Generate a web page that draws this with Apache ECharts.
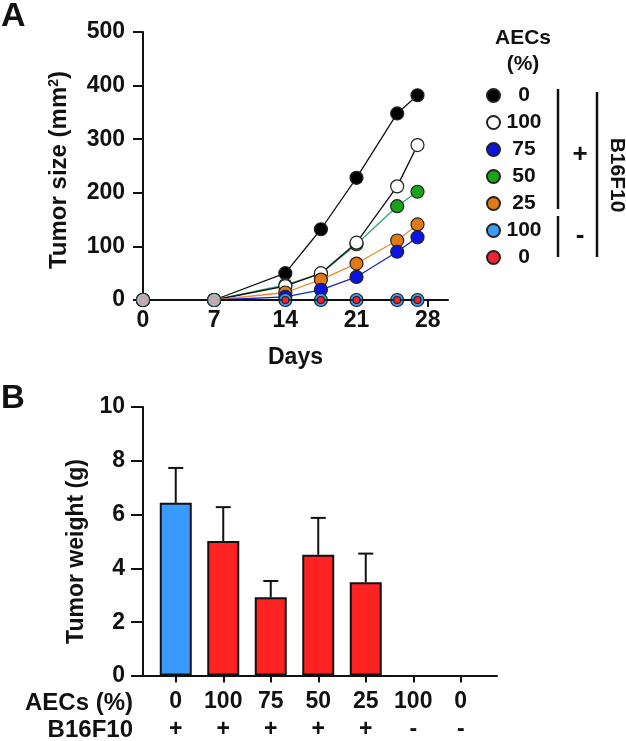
<!DOCTYPE html>
<html><head><meta charset="utf-8">
<script src="https://cdn.jsdelivr.net/npm/echarts@6/dist/echarts.min.js"></script>
<style>html,body{margin:0;padding:0;background:#fff}#c{width:626px;height:741px}</style>
</head><body><div id="c"></div>
<script>
// ---------- data: panel A (tumor size, mm^2) ----------
const days = [0, 7, 14, 17.5, 21, 25, 27];
const dayTicks = [0, 7, 14, 21, 28];
const startDays = [0, 7];
const startValues = [0, 0];
const sizeAec0 = [0, 0, 50, 132, 228, 348, 382];
const sizeAec100 = [0, 0, 26, 50, 107, 212, 289];
const sizeAec75 = [0, 0, 6, 19, 43, 90, 117];
const sizeAec50 = [0, 0, 28, 49, 104, 175, 202];
const sizeAec25 = [0, 0, 14, 38, 68, 111, 141];
const sizeCtrl100 = [0, 0, 0, 0, 0, 0, 0];
const sizeCtrl0 = [0, 0, 0, 0, 0, 0, 0];
const legendNames = ['0', '100', '75', '50', '25', '100 ', '0 '];

// ---------- data: panel B (tumor weight, g) ----------
const weightGroups = ['0', '100', '75', '50', '25', '100', '0'];
const weightB16 = ['+', '+', '+', '+', '+', '-', '-'];
const weightMean = [6.43, 5.01, 2.91, 4.50, 3.47, 0, 0];
const weightSem = [1.30, 1.26, 0.61, 1.37, 1.07, 0, 0];

// ---------- styles ----------
const FONT = '"Liberation Sans", Arial, sans-serif';
const INK = '#111';
const MB = '#222';
const topStyles = {
  '0':    {fill: '#000000', line: '#111111', size: 13},
  '100':  {fill: '#ffffff', line: '#111111', size: 13},
  '75':   {fill: '#0c14e4', line: '#1a22c8', size: 13},
  '50':   {fill: '#18a318', line: '#34a276', size: 13},
  '25':   {fill: '#e27a14', line: '#ee8a2c', size: 13},
  '100 ': {fill: '#3a9cf2', line: '#111111', size: 13},
  '0 ':   {fill: '#f22030', line: '#111111', size: 7}
};
const barColors = ['#3a9aff', '#fe2222', '#fe2222', '#fe2222', '#fe2222', '#fe2222', '#fe2222'];

function pairs(xs, ys) { return xs.map((x, i) => [x, ys[i]]); }
function lineSeries(name, values, z) {
  const st = topStyles[name];
  return {
    type: 'line', name: name, xAxisIndex: 0, yAxisIndex: 0, z: z,
    data: pairs(days, values), clip: false,
    symbol: 'circle', symbolSize: st.size, showSymbol: true,
    itemStyle: {color: st.fill, borderColor: MB, borderWidth: 1.2},
    lineStyle: {color: st.line, width: 1.3},
    emphasis: {disabled: true}
  };
}

// draw order (bottom -> top)
const topSeries = [
  lineSeries('0', sizeAec0, 2),
  lineSeries('50', sizeAec50, 3),
  lineSeries('100', sizeAec100, 4),
  lineSeries('25', sizeAec25, 5),
  lineSeries('75', sizeAec75, 6),
  lineSeries('100 ', sizeCtrl100, 7),
  lineSeries('0 ', sizeCtrl0, 8),
  {
    type: 'scatter', name: 'start', xAxisIndex: 0, yAxisIndex: 0, z: 9,
    data: pairs(startDays, startValues), clip: false,
    symbol: 'circle', symbolSize: 13,
    itemStyle: {color: '#c9c9c9', borderColor: '#333', borderWidth: 1.2},
    emphasis: {disabled: true}
  }
];

const chart = echarts.init(document.getElementById('c'), null, {renderer: 'canvas'});
const axisLineStyle = {color: INK, width: 2};

chart.setOption({
  animation: false,
  backgroundColor: '#fff',
  textStyle: {fontFamily: FONT, fontWeight: 'bold', color: INK},
  grid: [
    {left: 143, top: 32, width: 305, height: 268},
    {left: 143, top: 407, width: 354, height: 269},
    {left: 152, top: 407, width: 332.5, height: 269}
  ],
  xAxis: [
    {
      gridIndex: 0, type: 'value', min: 0, max: 30,
      axisLine: {show: true, onZero: false, lineStyle: axisLineStyle},
      axisTick: {show: true, length: 7, customValues: dayTicks, lineStyle: axisLineStyle},
      axisLabel: {customValues: dayTicks, margin: 9, fontSize: 23, fontWeight: 'bold', color: INK, fontFamily: FONT},
      splitLine: {show: false},
      name: 'Days', nameLocation: 'middle', nameGap: 46,
      nameTextStyle: {fontSize: 23, fontWeight: 'bold', color: INK, fontFamily: FONT}
    },
    {
      gridIndex: 1, type: 'value', min: 0, max: 1,
      axisLine: {show: true, onZero: false, lineStyle: axisLineStyle},
      axisTick: {show: false}, axisLabel: {show: false}, splitLine: {show: false}
    },
    {
      gridIndex: 2, type: 'category', data: weightGroups, boundaryGap: true,
      axisLine: {show: false},
      axisTick: {show: true, alignWithLabel: true, length: 7, lineStyle: axisLineStyle},
      axisLabel: {
        margin: 12, interval: 0,
        formatter: (v, i) => '{a|' + weightGroups[i] + '}\n{b|' + weightB16[i] + '}',
        rich: {
          a: {fontSize: 23, fontWeight: 'bold', color: INK, fontFamily: FONT, lineHeight: 28},
          b: {fontSize: 23, fontWeight: 'bold', color: INK, fontFamily: FONT, lineHeight: 28}
        }
      },
      splitLine: {show: false}
    }
  ],
  yAxis: [
    {
      gridIndex: 0, type: 'value', min: 0, max: 500, interval: 100,
      axisLine: {show: true, lineStyle: axisLineStyle},
      axisTick: {show: true, length: 10, lineStyle: axisLineStyle},
      axisLabel: {margin: 18, fontSize: 23, fontWeight: 'bold', color: INK, fontFamily: FONT},
      splitLine: {show: false},
      name: 'Tumor size (mm{sup|2})', nameLocation: 'middle', nameGap: 72,
      nameTextStyle: {
        fontSize: 24, fontWeight: 'bold', color: INK, fontFamily: FONT, padding: [0, 8, 0, 0],
        rich: {sup: {fontSize: 14, fontWeight: 'bold', color: INK, fontFamily: FONT, verticalAlign: 'top', lineHeight: 12}}
      }
    },
    {
      gridIndex: 1, type: 'value', min: 0, max: 10, interval: 2,
      axisLine: {show: true, lineStyle: axisLineStyle},
      axisTick: {show: true, length: 12, lineStyle: axisLineStyle},
      axisLabel: {margin: 18, fontSize: 23, fontWeight: 'bold', color: INK, fontFamily: FONT},
      splitLine: {show: false},
      name: 'Tumor weight (g)', nameLocation: 'middle', nameGap: 54,
      nameTextStyle: {fontSize: 23, fontWeight: 'bold', color: INK, fontFamily: FONT, padding: [0, 20, 0, 0]}
    },
    {
      gridIndex: 2, type: 'value', min: 0, max: 10, show: false
    }
  ],
  legend: {
    data: legendNames,
    orient: 'vertical', left: 481, top: 80,
    icon: 'circle', itemWidth: 13, itemHeight: 13, itemGap: 6,
    selectedMode: false,
    formatter: n => '{c|' + n.trim() + '}',
    textStyle: {
      rich: {c: {width: 38, align: 'center', fontSize: 21, fontWeight: 'bold', color: INK, fontFamily: FONT, lineHeight: 21}}
    }
  },
  series: topSeries.concat([
    {
      type: 'bar', xAxisIndex: 2, yAxisIndex: 2, barWidth: 32, z: 3,
      data: weightMean.map((v, i) => ({value: v, itemStyle: {color: barColors[i], borderWidth: v > 0 ? 2 : 0}})),
      itemStyle: {borderColor: INK, borderWidth: 2},
      emphasis: {disabled: true}
    },
    {
      type: 'custom', xAxisIndex: 2, yAxisIndex: 2, z: 2,
      data: weightMean.map((m, i) => [i, m, weightSem[i]]),
      renderItem: (params, api) => {
        const i = api.value(0), m = api.value(1), e = api.value(2);
        if (!e) return null;
        const p0 = api.coord([i, m]);
        const p1 = api.coord([i, m + e]);
        const half = 7.5;
        return {
          type: 'group',
          children: [
            {type: 'line', shape: {x1: p0[0], y1: p0[1], x2: p1[0], y2: p1[1]}, style: {stroke: INK, lineWidth: 2}},
            {type: 'line', shape: {x1: p1[0] - half, y1: p1[1], x2: p1[0] + half, y2: p1[1]}, style: {stroke: INK, lineWidth: 2}}
          ]
        };
      }
    }
  ]),
  graphic: [
    {type: 'text', left: 1, top: 0, style: {text: 'A', font: 'bold 34px ' + FONT, fill: INK}},
    {type: 'text', left: 1, top: 382, style: {text: 'B', font: 'bold 33px ' + FONT, fill: INK}},
    {type: 'text', x: 523, y: 38, style: {text: 'AECs', font: 'bold 21px ' + FONT, fill: INK, align: 'center', verticalAlign: 'middle'}},
    {type: 'text', x: 523, y: 64, style: {text: '(%)', font: 'bold 21px ' + FONT, fill: INK, align: 'center', verticalAlign: 'middle'}},
    {type: 'line', shape: {x1: 558, y1: 89, x2: 558, y2: 209}, style: {stroke: INK, lineWidth: 2.5}},
    {type: 'line', shape: {x1: 558, y1: 216, x2: 558, y2: 257}, style: {stroke: INK, lineWidth: 2.5}},
    {type: 'line', shape: {x1: 597, y1: 92, x2: 597, y2: 257}, style: {stroke: INK, lineWidth: 2.5}},
    {type: 'text', x: 580, y: 155, style: {text: '+', font: 'bold 26px ' + FONT, fill: INK, align: 'center', verticalAlign: 'middle'}},
    {type: 'text', x: 580, y: 236, style: {text: '-', font: 'bold 26px ' + FONT, fill: INK, align: 'center', verticalAlign: 'middle'}},
    {type: 'text', x: 617, y: 175, rotation: -Math.PI / 2, style: {text: 'B16F10', font: 'bold 21px ' + FONT, fill: INK, align: 'center', verticalAlign: 'middle'}},
    {type: 'text', x: 133, y: 703, style: {text: 'AECs (%)', font: 'bold 24px ' + FONT, fill: INK, align: 'right', verticalAlign: 'middle'}},
    {type: 'text', x: 133, y: 730, style: {text: 'B16F10', font: 'bold 24px ' + FONT, fill: INK, align: 'right', verticalAlign: 'middle'}}
  ]
});
</script>
</body></html>
